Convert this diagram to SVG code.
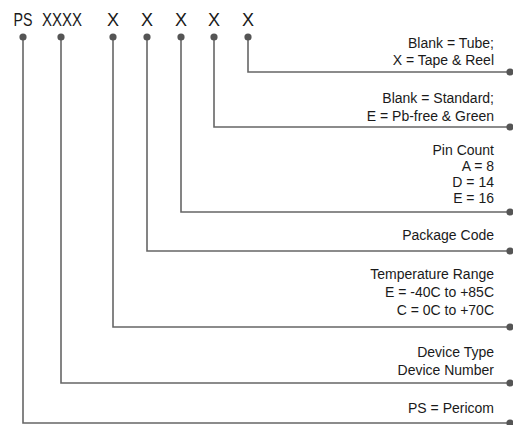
<svg xmlns="http://www.w3.org/2000/svg" width="513" height="425" viewBox="0 0 513 425">
<style>
.hdr{font-family:"Liberation Sans",Arial,sans-serif;font-size:18px;fill:#1a1a1a;text-anchor:middle}
.lbl{font-family:"Liberation Sans",Arial,sans-serif;font-size:14px;fill:#1a1a1a;text-anchor:end}
.ln{fill:none;stroke:#666;stroke-width:1.6}
.dot{fill:#555}
</style>
<rect width="513" height="425" fill="#fff"/>
<g id="header">
<text class="hdr" x="23" y="26" textLength="19" lengthAdjust="spacingAndGlyphs">PS</text>
<text class="hdr" x="62" y="26" textLength="40" lengthAdjust="spacingAndGlyphs">XXXX</text>
<text class="hdr" x="113" y="26">X</text>
<text class="hdr" x="147" y="26">X</text>
<text class="hdr" x="181" y="26">X</text>
<text class="hdr" x="214" y="26">X</text>
<text class="hdr" x="248" y="26">X</text>
</g>
<g id="connectors">
<path class="ln" d="M248 37V72H510"/>
<path class="ln" d="M214 37V127H510"/>
<path class="ln" d="M181 37V212H510"/>
<path class="ln" d="M147 37V251H510"/>
<path class="ln" d="M113 37V327H510"/>
<path class="ln" d="M61 37V383H510"/>
<path class="ln" d="M23 37V423H510"/>
<g class="dot">
<circle cx="23" cy="37" r="3.6"/><circle cx="61" cy="37" r="3.6"/><circle cx="113" cy="37" r="3.6"/>
<circle cx="147" cy="37" r="3.6"/><circle cx="181" cy="37" r="3.6"/><circle cx="214" cy="37" r="3.6"/><circle cx="248" cy="37" r="3.6"/>
<circle cx="510" cy="72" r="3.6"/><circle cx="510" cy="127" r="3.6"/><circle cx="510" cy="212" r="3.6"/>
<circle cx="510" cy="251" r="3.6"/><circle cx="510" cy="327" r="3.6"/><circle cx="510" cy="383" r="3.6"/><circle cx="510" cy="423" r="3.6"/>
</g>
</g>
<g id="packing">
<text class="lbl" x="494" y="48">Blank = Tube;</text>
<text class="lbl" x="494" y="65">X = Tape &amp; Reel</text>
</g>
<g id="green">
<text class="lbl" x="494" y="103">Blank = Standard;</text>
<text class="lbl" x="494" y="121">E = Pb-free &amp; Green</text>
</g>
<g id="pincount">
<text class="lbl" x="494" y="155">Pin Count</text>
<text class="lbl" x="494" y="171">A = 8</text>
<text class="lbl" x="494" y="187">D = 14</text>
<text class="lbl" x="494" y="203">E = 16</text>
</g>
<g id="package">
<text class="lbl" x="494" y="240">Package Code</text>
</g>
<g id="temperature">
<text class="lbl" x="494" y="279">Temperature Range</text>
<text class="lbl" x="494" y="297">E = -40C to +85C</text>
<text class="lbl" x="494" y="315">C = 0C to +70C</text>
</g>
<g id="device">
<text class="lbl" x="494" y="357">Device Type</text>
<text class="lbl" x="494" y="375">Device Number</text>
</g>
<g id="pericom">
<text class="lbl" x="494" y="413">PS = Pericom</text>
</g>
</svg>
